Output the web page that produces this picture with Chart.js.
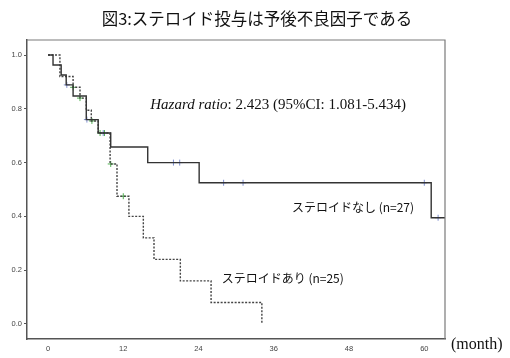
<!DOCTYPE html>
<html>
<head>
<meta charset="utf-8">
<script src="https://cdn.jsdelivr.net/npm/chart.js@4/dist/chart.umd.min.js"></script>
<style>
  html, body { margin: 0; padding: 0; background: #fff; }
  #wrap { width: 510px; height: 358px; }
</style>
</head>
<body>
<div id="wrap"><canvas id="kmChart" width="510" height="358"></canvas></div>
<script>
// Kaplan-Meier steps (month, survival after the event)
const noSteroidTimes = [0, 0.8, 2.1, 2.9, 4.0, 6.1, 8.0, 10.0, 15.9, 24.1, 61.1, 63.3];
const noSteroidSurv  = [1.0, 0.963, 0.926, 0.889, 0.848, 0.76, 0.71, 0.658, 0.60, 0.525, 0.395, 0.395];
const noSteroidCensorTimes = [3.0, 6.2, 8.8, 20.0, 21.0, 28.0, 31.1, 60.0, 62.2];
const noSteroidCensorSurv  = [0.889, 0.76, 0.71, 0.60, 0.60, 0.525, 0.525, 0.525, 0.395];

const steroidTimes = [0, 1.9, 4.0, 5.1, 6.1, 6.9, 8.0, 9.9, 11.0, 12.9, 15.2, 16.9, 21.1, 26.0, 34.1];
const steroidSurv  = [1.0, 0.92, 0.88, 0.84, 0.795, 0.755, 0.71, 0.595, 0.475, 0.40, 0.32, 0.24, 0.16, 0.08, 0.0];
const steroidCensorTimes = [4.0, 5.1, 7.0, 8.3, 9.0, 10.0, 12.0];
const steroidCensorSurv  = [0.88, 0.84, 0.755, 0.71, 0.71, 0.595, 0.475];

const xTicks = [0, 12, 24, 36, 48, 60];
const yTicks = [0, 0.2, 0.4, 0.6, 0.8, 1.0];

const titleText = '図3:ステロイド投与は予後不良因子である';
const noSteroidLabel = 'ステロイドなし (n=27)';
const steroidLabel = 'ステロイドあり (n=25)';

function toPoints(xs, ys) {
    return xs.map((x, i) => ({ x: x, y: ys[i] }));
}

const CJK = '"Noto Sans CJK JP", "Noto Sans", sans-serif';
const SERIF = '"Liberation Serif", "DejaVu Serif", serif';

// frame + text drawn on top of the chart
const textPlugin = {
    id: 'kmText',
    afterDraw(chart) {
        const ctx = chart.ctx;
        const a = chart.chartArea;
        const xs = chart.scales.x;
        const ys = chart.scales.y;

        ctx.save();
        ctx.strokeStyle = '#7a7a7a';
        ctx.lineWidth = 1.2;
        ctx.beginPath();
        ctx.moveTo(a.left, a.top);
        ctx.lineTo(a.right, a.top);
        ctx.lineTo(a.right, a.bottom);
        ctx.stroke();

        ctx.fillStyle = '#111';
        ctx.textBaseline = 'middle';

        // title
        ctx.font = '16.5px ' + CJK;
        ctx.textAlign = 'center';
        ctx.fillText(titleText, 257, 19);

        // hazard ratio
        ctx.textAlign = 'left';
        let hx = xs.getPixelForValue(16.3);
        const hy = ys.getPixelForValue(0.815);
        ctx.font = 'italic 15px ' + SERIF;
        ctx.fillText('Hazard ratio', hx, hy);
        hx += ctx.measureText('Hazard ratio').width;
        ctx.font = '15px ' + SERIF;
        ctx.fillText(': 2.423 (95%CI: 1.081-5.434)', hx, hy);

        // group labels
        ctx.font = '12px ' + CJK;
        ctx.fillText(noSteroidLabel, xs.getPixelForValue(38.9), ys.getPixelForValue(0.435));
        ctx.fillText(steroidLabel, xs.getPixelForValue(27.7), ys.getPixelForValue(0.168));

        // axis unit
        ctx.font = '16px ' + SERIF;
        ctx.fillText('(month)', 451, 345);
        ctx.restore();
    }
};

const ctx = document.getElementById('kmChart').getContext('2d');
new Chart(ctx, {
    type: 'line',
    data: {
        datasets: [{
            label: 'no steroid',
            data: toPoints(noSteroidTimes, noSteroidSurv),
            stepped: true,
            borderColor: '#333',
            borderWidth: 1.4,
            pointRadius: 0,
            fill: false
        }, {
            label: 'steroid',
            data: toPoints(steroidTimes, steroidSurv),
            stepped: true,
            borderColor: '#444',
            borderWidth: 1.4,
            borderDash: [2, 1.5],
            pointRadius: 0,
            fill: false
        }, {
            label: 'no steroid censored',
            type: 'scatter',
            data: toPoints(noSteroidCensorTimes, noSteroidCensorSurv),
            pointStyle: 'cross',
            pointRadius: 3,
            borderWidth: 1,
            borderColor: '#7f8fd0',
            backgroundColor: '#7f8fd0'
        }, {
            label: 'steroid censored',
            type: 'scatter',
            data: toPoints(steroidCensorTimes, steroidCensorSurv),
            pointStyle: 'cross',
            pointRadius: 3,
            borderWidth: 1,
            borderColor: '#4fb04f',
            backgroundColor: '#4fb04f'
        }]
    },
    options: {
        responsive: false,
        animation: false,
        layout: { padding: { top: 40, right: 65, bottom: 0, left: 0 } },
        plugins: {
            legend: { display: false },
            tooltip: { enabled: false }
        },
        scales: {
            x: {
                type: 'linear',
                min: -3.35,
                max: 63.3,
                afterBuildTicks: (scale) => { scale.ticks = xTicks.map(v => ({ value: v })); },
                afterFit: (scale) => { scale.height = 19; },
                grid: { display: true, drawOnChartArea: false, drawTicks: false },
                border: { color: '#555', width: 1.5 },
                ticks: {
                    padding: 5,
                    color: '#444',
                    font: { family: 'Arial, "Liberation Sans", sans-serif', size: 7.5 },
                    maxRotation: 0
                }
            },
            y: {
                type: 'linear',
                min: -0.056,
                max: 1.056,
                afterBuildTicks: (scale) => { scale.ticks = yTicks.map(v => ({ value: v })); },
                afterFit: (scale) => { scale.width = 27; },
                grid: { display: true, drawOnChartArea: false, drawTicks: true, tickLength: 3, color: '#555' },
                border: { color: '#555', width: 1.5 },
                ticks: {
                    padding: 2,
                    color: '#444',
                    font: { family: 'Arial, "Liberation Sans", sans-serif', size: 7.5 },
                    callback: (v) => Number(v).toFixed(1)
                }
            }
        }
    },
    plugins: [textPlugin]
});
</script>
</body>
</html>
